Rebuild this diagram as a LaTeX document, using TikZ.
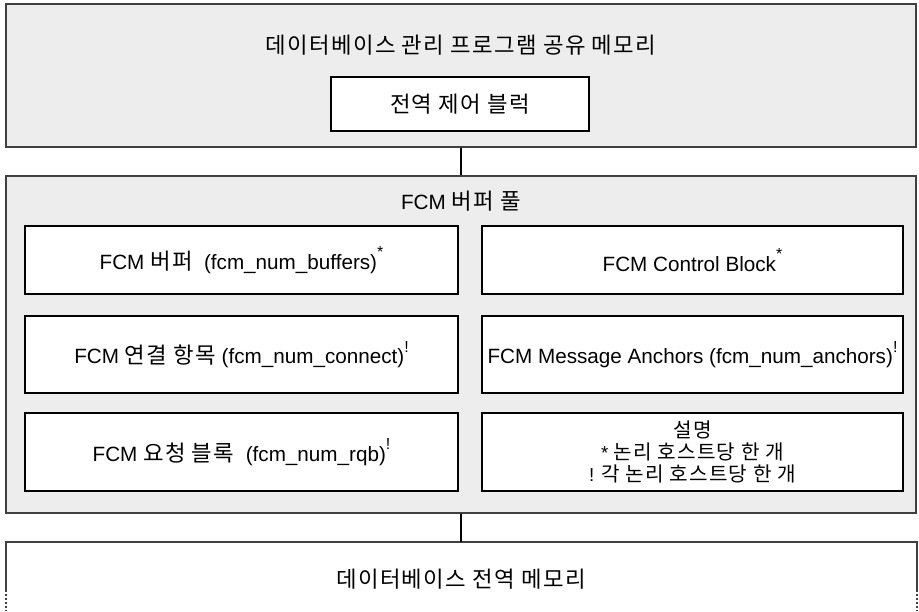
\documentclass[tikz,border=0pt]{standalone}
\usepackage{fontspec}
\setmainfont{Liberation Sans}
\newfontfamily\kr[Scale=1.08, LetterSpace=6]{Noto Sans CJK KR}
\newcommand{\upnote}[1]{\raisebox{0.55em}{\fontsize{12}{12}\selectfont #1}}

\definecolor{poolgray}{HTML}{EDEDED}
\definecolor{edgegray}{HTML}{404040}

\tikzset{
  membox/.style={draw=edgegray, line width=1.1pt, fill=poolgray, inner sep=0pt},
  itembox/.style={draw=black, line width=0.8pt, fill=white, inner sep=0pt, align=center},
  link/.style={draw=black, line width=0.8pt},
}

\begin{document}
\begin{tikzpicture}[x=0.75pt, y=-0.75pt, font=\fontsize{15.5}{21}\selectfont]
\useasboundingbox (0,0) rectangle (919,611);

% database manager shared memory
\node[membox, minimum width=910*0.75pt, minimum height=143*0.75pt] (dbmgr) at (461,75.5) {};
\node (dbmgrtitle) at (461,45) {\kr 데이터베이스 관리 프로그램 공유 메모리};
\node[itembox, minimum width=258*0.75pt, minimum height=54*0.75pt] (gcb) at (460,104) {\kr 전역 제어 블럭};

% FCM buffer pool
\node[membox, minimum width=910*0.75pt, minimum height=337*0.75pt] (pool) at (461,344.5) {};
\node (pooltitle) at (461,201) {FCM {\kr 버퍼 풀}};

\node[itembox, minimum width=433*0.75pt, minimum height=68*0.75pt] (buffers) at (241.5,260)
  {FCM {\kr 버퍼}\ \ (fcm\_num\_buffers)\upnote{*}};
\node[itembox, minimum width=421*0.75pt, minimum height=68*0.75pt] (ctrlblock) at (692.5,260)
  {FCM Control Block\upnote{*}};
\node[itembox, minimum width=433*0.75pt, minimum height=77*0.75pt] (connect) at (241.5,354.5)
  {FCM {\kr 연결 항목} (fcm\_num\_connect)\upnote{!}};
\node[itembox, minimum width=421*0.75pt, minimum height=77*0.75pt] (anchors) at (692.5,354.5)
  {FCM Message Anchors (fcm\_num\_anchors)\upnote{!}};
\node[itembox, minimum width=433*0.75pt, minimum height=78*0.75pt] (rqb) at (241.5,452)
  {FCM {\kr 요청 블록}\ \ (fcm\_num\_rqb)\upnote{!}};
\node[itembox, minimum width=421*0.75pt, minimum height=78*0.75pt, font=\fontsize{14}{16.5}\selectfont] (legend) at (692.5,452)
  {{\kr 설명}\\* {\kr 논리 호스트당 한 개}\\! {\kr 각 논리 호스트당 한 개}};

% database global memory (open at the bottom)
\coordinate (globtop) at (461,542);
\draw[draw=edgegray, line width=1.1pt] (6,590) -- (6,542) -- (917,542) -- (917,590);
\draw[draw=edgegray, line width=1.3pt, dash pattern=on 1.3pt off 1.7pt] (6,590) -- (6,611);
\draw[draw=edgegray, line width=1.3pt, dash pattern=on 1.3pt off 1.7pt] (917,590) -- (917,611);
\node (globtitle) at (461,579) {\kr 데이터베이스 전역 메모리};

% connectors
\draw[link] (dbmgr.south) -- (pool.north);
\draw[link] (pool.south) -- (globtop);
\end{tikzpicture}
\end{document}
